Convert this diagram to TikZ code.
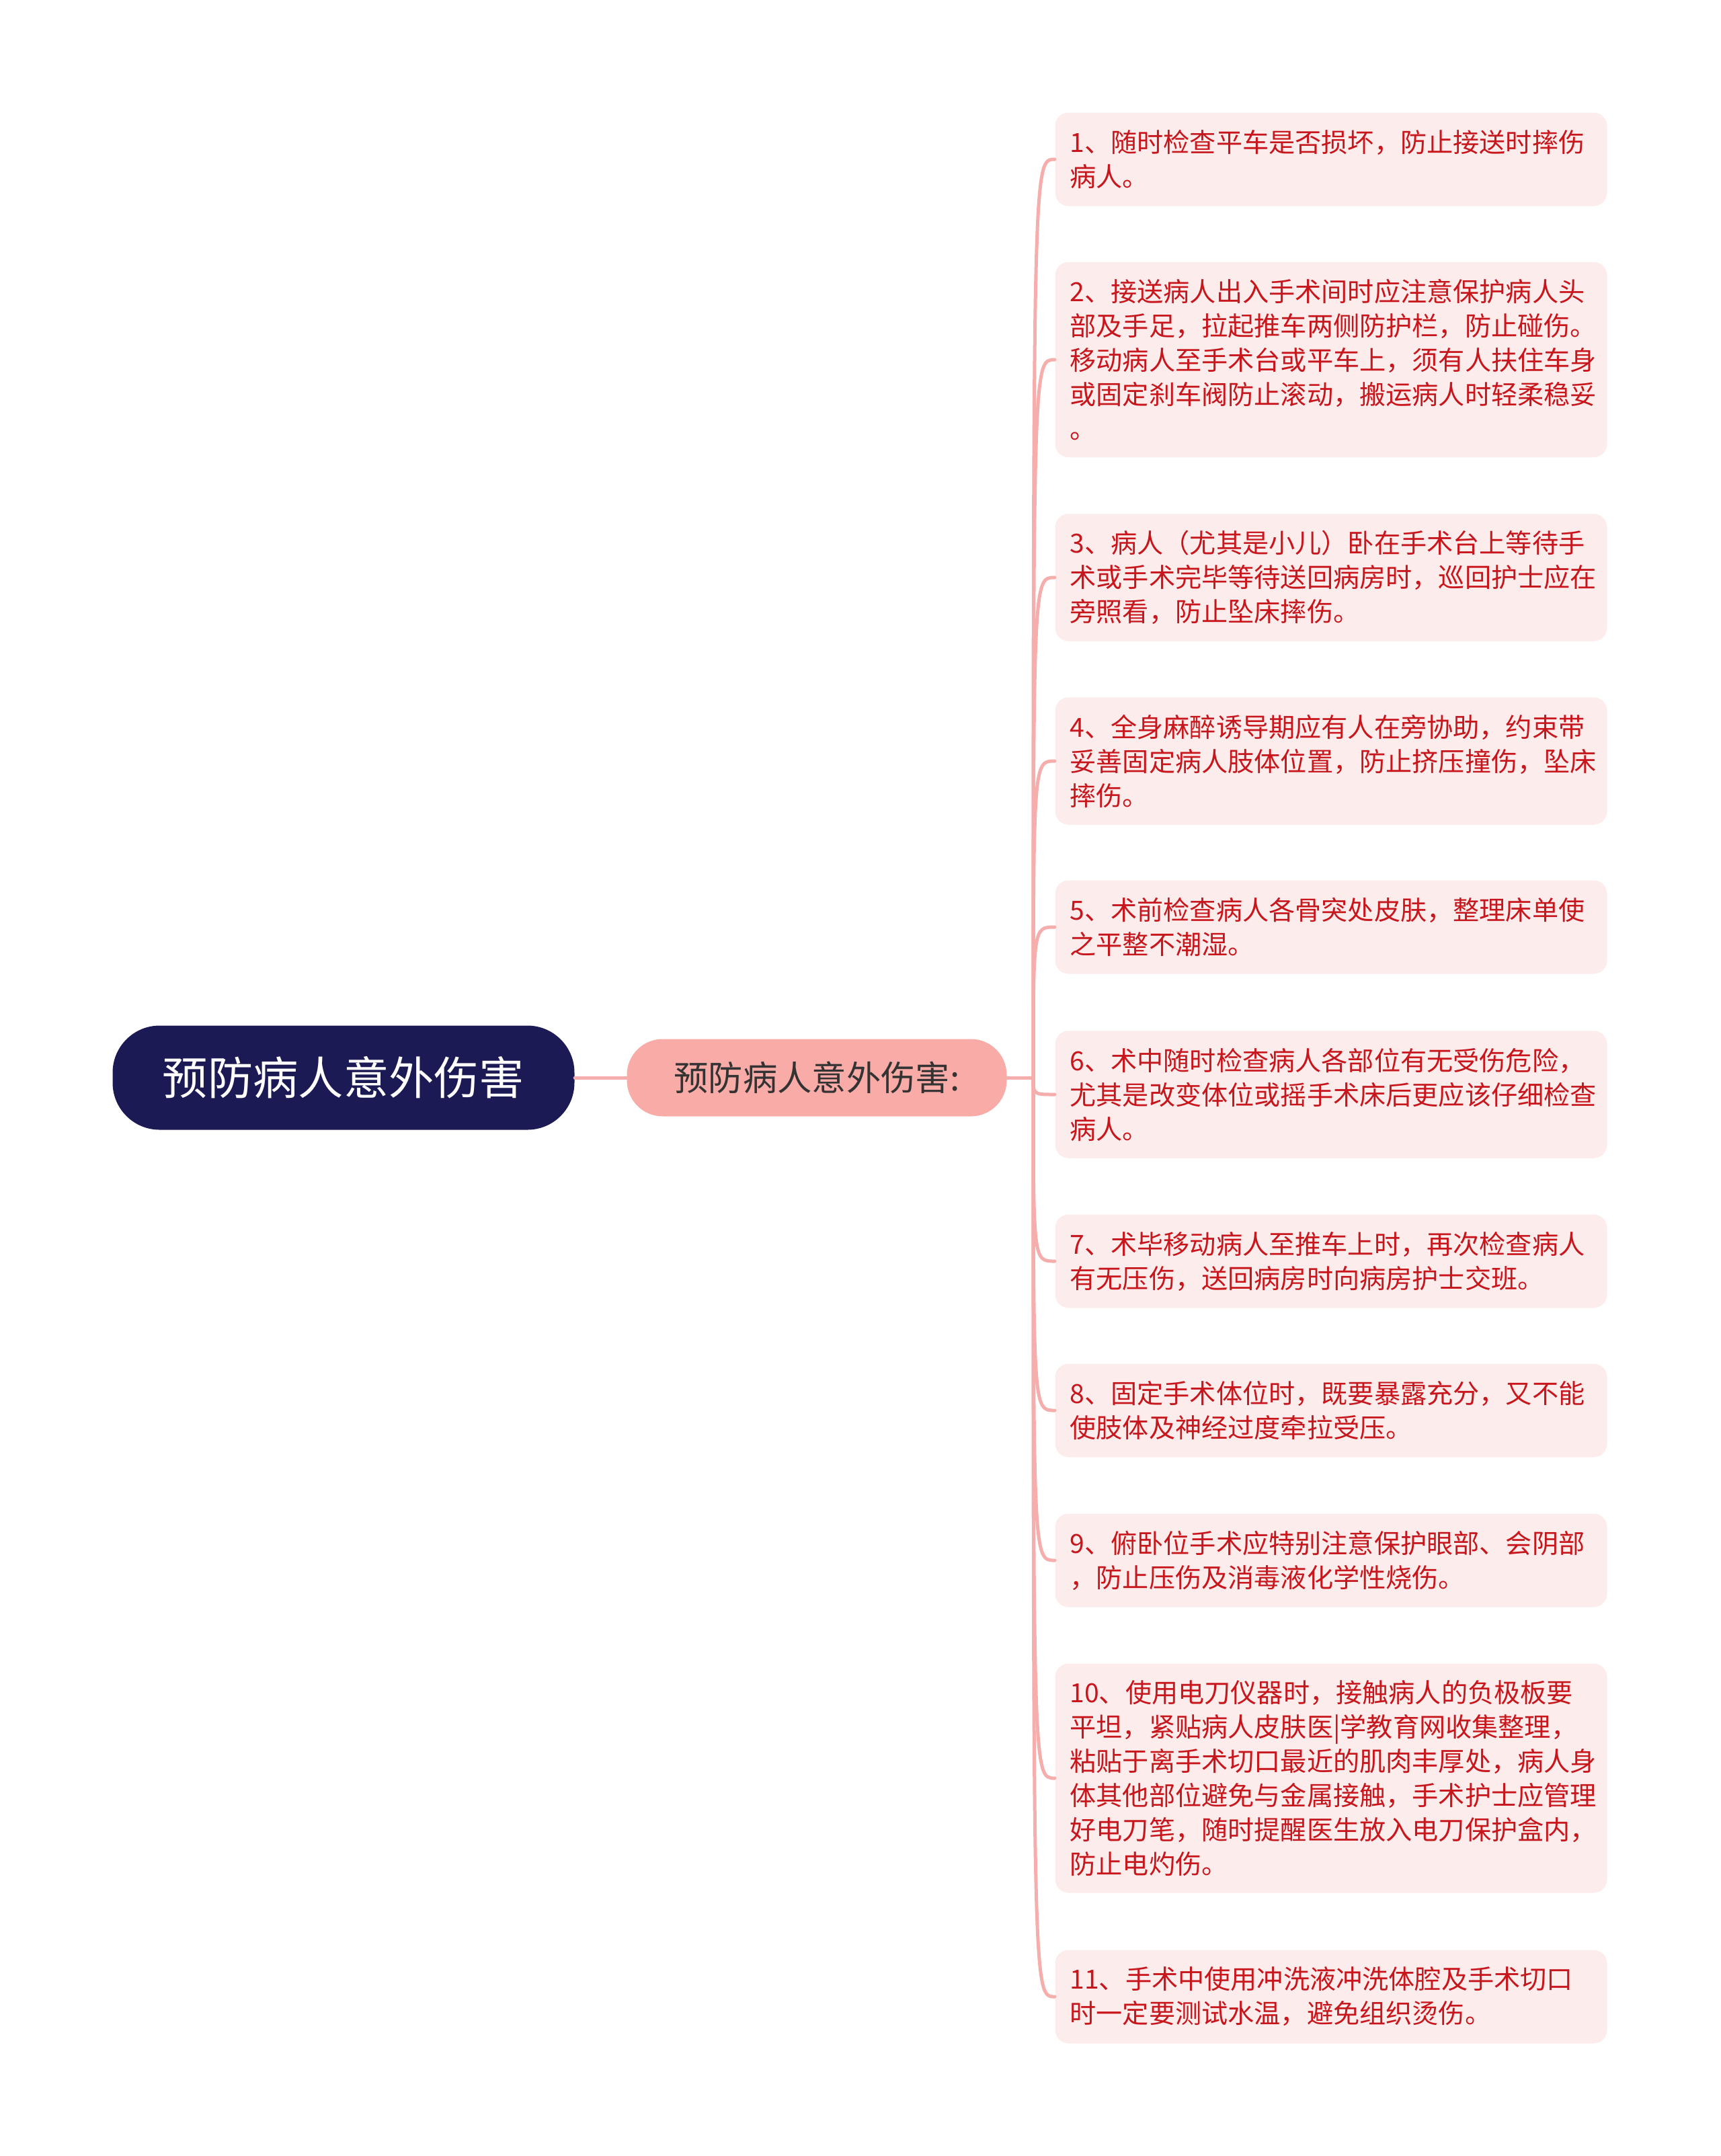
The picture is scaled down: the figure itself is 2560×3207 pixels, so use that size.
\documentclass[tikz,border=0pt]{standalone}
\usepackage{fontspec}
\setmainfont{Noto Sans CJK SC}
\definecolor{rootblue}{HTML}{1B1A55}
\definecolor{topicpink}{HTML}{F9ABA7}
\definecolor{leafpink}{HTML}{FDECEC}
\definecolor{leafred}{HTML}{C8161D}
\definecolor{linkpink}{HTML}{F5AEAC}
\begin{document}
\begin{tikzpicture}[x=0.3pt, y=-0.3pt,
    root/.style={fill=rootblue, text=white, rounded corners=21pt,
        minimum width=687*0.3pt, minimum height=155*0.3pt,
        font=\fontsize{20.2pt}{24pt}\selectfont},
    topic/.style={fill=topicpink, text=black!80, rounded corners=16pt,
        minimum width=565*0.3pt, minimum height=115*0.3pt,
        font=\fontsize{15.4pt}{18pt}\selectfont},
    leaf/.style={fill=leafpink, text=leafred, rounded corners=6pt,
        minimum width=821*0.3pt, text width=777*0.3pt, align=left,
        inner ysep=0pt, minimum height=(#1*50.5+38)*0.3pt,
        font=\fontsize{11.75pt}{15.3pt}\selectfont},
    link/.style={draw=linkpink, line width=1.5pt, line cap=round}]
    \useasboundingbox (0,0) rectangle (2560,3207);
    \node[root] (root) at (511,1603) {预防病人意外伤害};
    \node[topic] (topic) at (1215,1603) {预防病人意外伤害:};
    \coordinate (j) at (1537,1603);
    \node[leaf=2] (l1) at (1980,237) {1、随时检查平车是否损坏，防止接送时摔伤\\病人。};
    \node[leaf=5] (l2) at (1980,535) {2、接送病人出入手术间时应注意保护病人头\\部及手足，拉起推车两侧防护栏，防止碰伤。\\移动病人至手术台或平车上，须有人扶住车身\\或固定刹车阀防止滚动，搬运病人时轻柔稳妥\\。};
    \node[leaf=3] (l3) at (1980,859) {3、病人（尤其是小儿）卧在手术台上等待手\\术或手术完毕等待送回病房时，巡回护士应在\\旁照看，防止坠床摔伤。};
    \node[leaf=3] (l4) at (1980,1132) {4、全身麻醉诱导期应有人在旁协助，约束带\\妥善固定病人肢体位置，防止挤压撞伤，坠床\\摔伤。};
    \node[leaf=2] (l5) at (1980,1379) {5、术前检查病人各骨突处皮肤，整理床单使\\之平整不潮湿。};
    \node[leaf=3] (l6) at (1980,1628) {6、术中随时检查病人各部位有无受伤危险，\\尤其是改变体位或摇手术床后更应该仔细检查\\病人。};
    \node[leaf=2] (l7) at (1980,1876) {7、术毕移动病人至推车上时，再次检查病人\\有无压伤，送回病房时向病房护士交班。};
    \node[leaf=2] (l8) at (1980,2098) {8、固定手术体位时，既要暴露充分，又不能\\使肢体及神经过度牵拉受压。};
    \node[leaf=2] (l9) at (1980,2321) {9、俯卧位手术应特别注意保护眼部、会阴部\\，防止压伤及消毒液化学性烧伤。};
    \node[leaf=6] (l10) at (1980,2645) {10、使用电刀仪器时，接触病人的负极板要\\平坦，紧贴病人皮肤医|学教育网收集整理，\\粘贴于离手术切口最近的肌肉丰厚处，病人身\\体其他部位避免与金属接触，手术护士应管理\\好电刀笔，随时提醒医生放入电刀保护盒内，\\防止电灼伤。};
    \node[leaf=2] (l11) at (1980,2970) {11、手术中使用冲洗液冲洗体腔及手术切口\\时一定要测试水温，避免组织烫伤。};
    \draw[link] (root) -- (topic);
    \draw[link] (topic) -- (j);
    \foreach \i in {1,...,11}
        \draw[link] (j) .. controls (j |- l\i.west) and (j |- l\i.west) .. (l\i.west);
\end{tikzpicture}
\end{document}
